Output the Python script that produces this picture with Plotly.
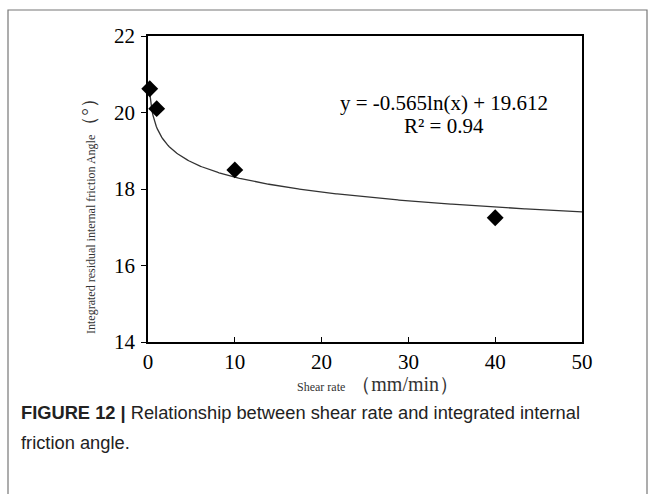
import numpy as np
import plotly.graph_objects as go

# Data
shear_rate = [0.2, 1, 10, 40]
friction_angle = [20.62, 20.10, 18.50, 17.25]

# Trendline coefficients (as printed on the chart)
fit_a = -0.565
fit_b = 19.612
fit_r2 = 0.94

x_ticks = [0, 10, 20, 30, 40, 50]
y_ticks = [14, 16, 18, 20, 22]

# Trendline computed from the displayed equation over the data range to axis end
xs = np.linspace(min(shear_rate), 50, 400)
ys = fit_a * np.log(xs) + fit_b

W, H = 655, 494
L, R, T, B = 148, 73, 36, 152
pw, ph = W - L - R, H - T - B

def px(x):
    return (x - L) / pw

def py(y):
    return (H - B - y) / ph

serif = "Liberation Serif, Times New Roman, serif"
sans = "Liberation Sans, Arial, sans-serif"

fig = go.Figure()
fig.add_trace(go.Scatter(x=xs, y=ys, mode="lines",
                         line=dict(color="#333333", width=1.3),
                         hoverinfo="skip", showlegend=False))
fig.add_trace(go.Scatter(x=shear_rate, y=friction_angle, mode="markers",
                         marker=dict(symbol="diamond", size=13, color="black"),
                         showlegend=False, cliponaxis=False))

fig.update_layout(
    width=W, height=H,
    margin=dict(l=L, r=R, t=T, b=B),
    paper_bgcolor="white", plot_bgcolor="white",
    xaxis=dict(range=[0, 50], tickvals=x_ticks, ticks="inside", ticklen=5,
               tickcolor="black", showline=True, linecolor="black", linewidth=1.5,
               mirror=True, showgrid=False, zeroline=False, ticklabelstandoff=0,
               tickfont=dict(family=serif, size=21, color="black")),
    yaxis=dict(range=[14, 22], tickvals=y_ticks, ticks="outside", ticklen=5,
               tickcolor="black", showline=True, linecolor="black", linewidth=1.5,
               mirror=True, showgrid=False, zeroline=False, ticklabelstandoff=2,
               tickfont=dict(family=serif, size=21, color="black")),
    font=dict(family=serif, color="black"),
)

# Equation annotation
fig.add_annotation(x=px(444), y=py(103), xref="paper", yref="paper",
                   xanchor="center", yanchor="middle",
                   text=f"y = {fit_a}ln(x) + {fit_b}", showarrow=False,
                   font=dict(family=serif, size=21, color="black"))
fig.add_annotation(x=px(444), y=py(126), xref="paper", yref="paper",
                   xanchor="center", yanchor="middle",
                   text=f"R² = {fit_r2}", showarrow=False,
                   font=dict(family=serif, size=21, color="black"))

# Y axis title
fig.add_annotation(x=px(88), y=py(212), xref="paper", yref="paper",
                   xanchor="center", yanchor="middle",
                   text="Integrated residual internal friction Angle<span style='font-size:19px'>（°）</span>",
                   textangle=-90, showarrow=False,
                   font=dict(family=serif, size=12, color="#333333"))

# X axis title
fig.add_annotation(x=px(378), y=py(384), xref="paper", yref="paper",
                   xanchor="center", yanchor="middle",
                   text="Shear rate  <span style='font-size:20px'>（mm/min）</span>",
                   showarrow=False,
                   font=dict(family=serif, size=12, color="#333333"))

# Caption
fig.add_annotation(x=px(19), y=py(412), xref="paper", yref="paper",
                   xanchor="left", yanchor="middle",
                   text="<b>FIGURE 12 |</b> Relationship between shear rate and integrated internal",
                   showarrow=False,
                   font=dict(family=sans, size=18.3, color="#222222"))
fig.add_annotation(x=px(19), y=py(442), xref="paper", yref="paper",
                   xanchor="left", yanchor="middle",
                   text="friction angle.", showarrow=False,
                   font=dict(family=sans, size=18.3, color="#222222"))

# Outer frame
fig.add_shape(type="rect", xref="paper", yref="paper",
              x0=px(8), x1=px(647), y0=py(500), y1=py(10),
              line=dict(color="#777777", width=1.2), layer="below")

fig.write_html("out.html")
